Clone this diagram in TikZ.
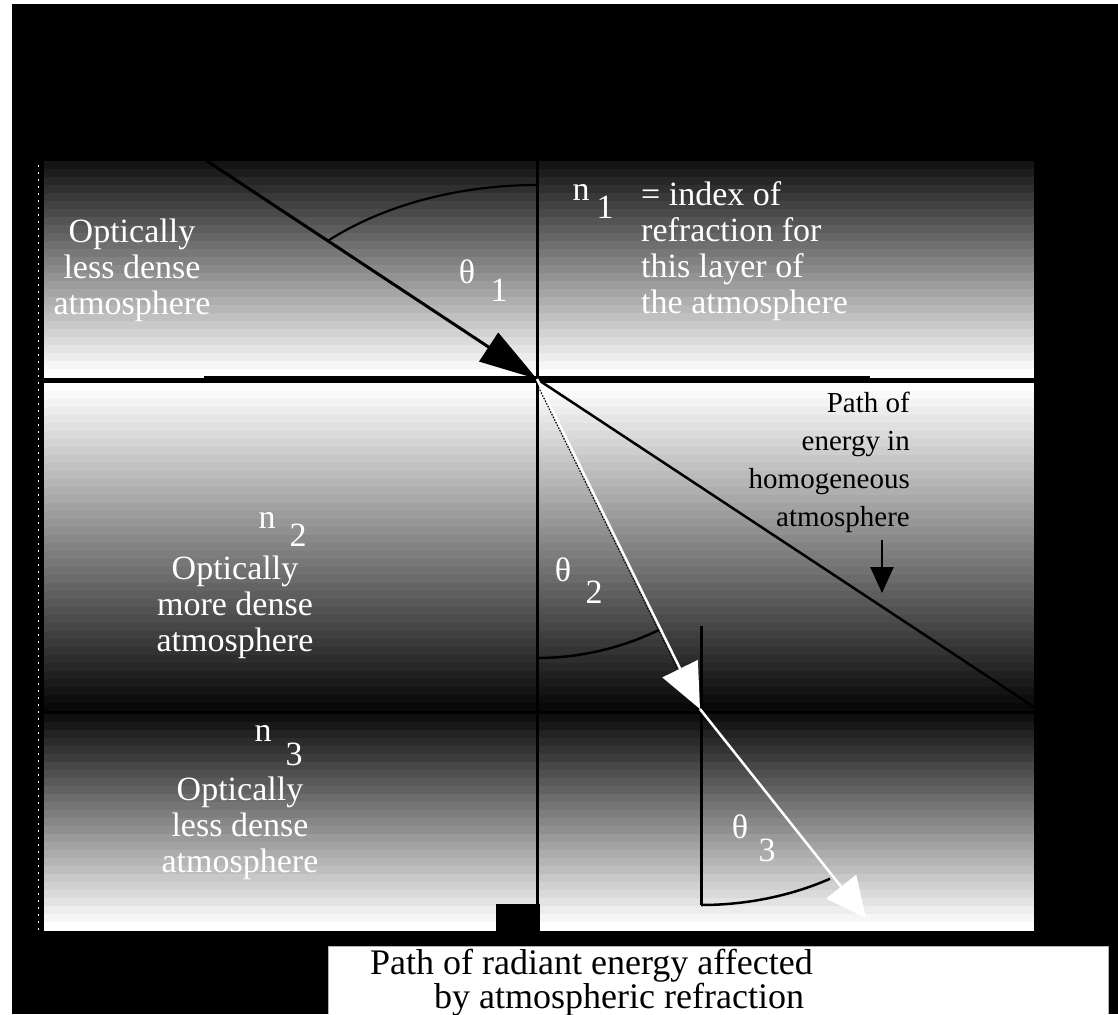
\documentclass[tikz,border=0pt]{standalone}
\usepackage{fontspec}
\setmainfont{Liberation Serif}
\usetikzlibrary{arrows.meta}
\begin{document}
\begin{tikzpicture}[x=1pt,y=-1pt,
  wlab/.style={text=white, font=\fontsize{34}{36}\selectfont, inner sep=0pt},
  blab/.style={text=black, font=\fontsize{29}{38}\selectfont, inner sep=0pt},
  clab/.style={text=black, font=\fontsize{36}{37}\selectfont, inner sep=0pt},
  ray/.style={line width=2.5pt},
  normal/.style={line width=3pt},
  anglearc/.style={line width=2.5pt}]
\useasboundingbox (0,0) rectangle (1118,1014);
\fill[white] (0,0) rectangle (1118,1014);
\fill[black] (12,4) rectangle (1118,1014);
% layer 1 : dark top -> white bottom
\foreach \i in {0,...,26} {
  \pgfmathsetmacro\g{92*(1-\i/26)}
  \fill[black!\g] (44,{161+\i*8}) rectangle (1034,{161+\i*8+8.6});
}
% layer 2 : white top -> dark bottom
\foreach \i in {0,...,40} {
  \pgfmathsetmacro\g{97*\i/40}
  \fill[black!\g] (44,{383+\i*8}) rectangle (1034,{383+\i*8+8.6});
}
% layer 3 : dark top -> white bottom
\foreach \i in {0,...,26} {
  \pgfmathsetmacro\g{94*(1-\i/26)}
  \fill[black!\g] (44,{714+\i*8}) rectangle (1034,{714+\i*8+8.6});
}
% left dotted edge
\draw[white, line width=1.5pt, dash pattern=on 1.5pt off 5.5pt] (38.5,165) -- (38.5,930);
% interfaces
\draw[line width=3pt] (44,380) -- (1034,380);
\draw[line width=6pt] (204,379) -- (870,379);
\draw[line width=2.5pt] (44,712.5) -- (1034,712.5);
% coordinates
\coordinate (A) at (207,161);
\coordinate (O) at (537,379);
\coordinate (H) at (1034,707);
\coordinate (P) at (700,709);
\coordinate (Q) at (866,918);
\coordinate (Nt) at (537,161);
\coordinate (Nb) at (537,906);
\coordinate (N2t) at (701,626);
\coordinate (N2b) at (701,905);
\coordinate (Dt) at (882,540);
\coordinate (Db) at (882,593);
% normals
\draw[normal] (Nt) -- (Nb);
\fill (496,904) rectangle (540,932);
\draw[normal] (N2t) -- (N2b);
% angle arcs
\draw[line width=2.2pt] plot[domain=-90:-134.3, samples=40] ({537+298*cos(\x)},{379+194*sin(\x)});
\draw[anglearc] plot[domain=90:63.5, samples=30] ({537+279*cos(\x)},{379+279*sin(\x)});
\draw[anglearc] plot[domain=90:60, samples=30] ({701+258*cos(\x)},{709+196*sin(\x)});
% homogeneous path
\draw[ray] (O) -- (H);
% incident ray
\draw[line width=3pt, -{Triangle[length=58pt,width=34pt]}] (A) -- (O);
% refracted rays
\draw[line width=1.2pt, dash pattern=on 1.5pt off 1.5pt, transform canvas={xshift=-2.5pt}] (O) -- (P);
\draw[ray, white, -{Triangle[length=45pt,width=39pt]}] (O) -- (P);
\draw[ray, white, -{Triangle[length=40pt,width=38pt]}] (P) -- (Q);
% down arrow
\draw[ray, -{Triangle[length=26pt,width=23pt]}] (Dt) -- (Db);
% caption box
\fill[white] (328,946) rectangle (1108,1014);
\draw[gray!60, line width=1pt] (328,1014) -- (328,946) -- (1108,946) -- (1108,1014);
% labels
\node[wlab, align=center] (t1) at (132,270) {Optically\\less dense\\atmosphere};
\node[wlab] (n1) at (581,192) {n};
\node[wlab] (n1s) at (605,207) {1};
\node[wlab, align=left, anchor=west] (d1) at (641,251) {= index of\\refraction for\\this layer of\\the atmosphere};
\node[wlab] (th1) at (467,272) {θ};
\node[wlab] (th1s) at (499,290) {1};
\node[wlab] (n2) at (267,520) {n};
\node[wlab] (n2s) at (298,535) {2};
\node[wlab, align=center] (t2) at (235,607) {Optically\\more dense\\atmosphere};
\node[wlab] (n3) at (263,733) {n};
\node[wlab] (n3s) at (294,754) {3};
\node[wlab, align=center] (t3) at (240,828) {Optically\\less dense\\atmosphere};
\node[wlab] (th2) at (563,570) {θ};
\node[wlab] (th2s) at (594,592) {2};
\node[wlab] (th3) at (740,827) {θ};
\node[wlab] (th3s) at (767,850) {3};
\node[blab, align=right, anchor=east] (hp) at (910,462) {Path of\\energy in\\homogeneous\\atmosphere};
\node[clab, anchor=base west] (c1) at (370,974) {Path of radiant energy affected};
\node[clab, anchor=base west] (c2) at (434,1008) {by atmospheric refraction};
\end{tikzpicture}
\end{document}
